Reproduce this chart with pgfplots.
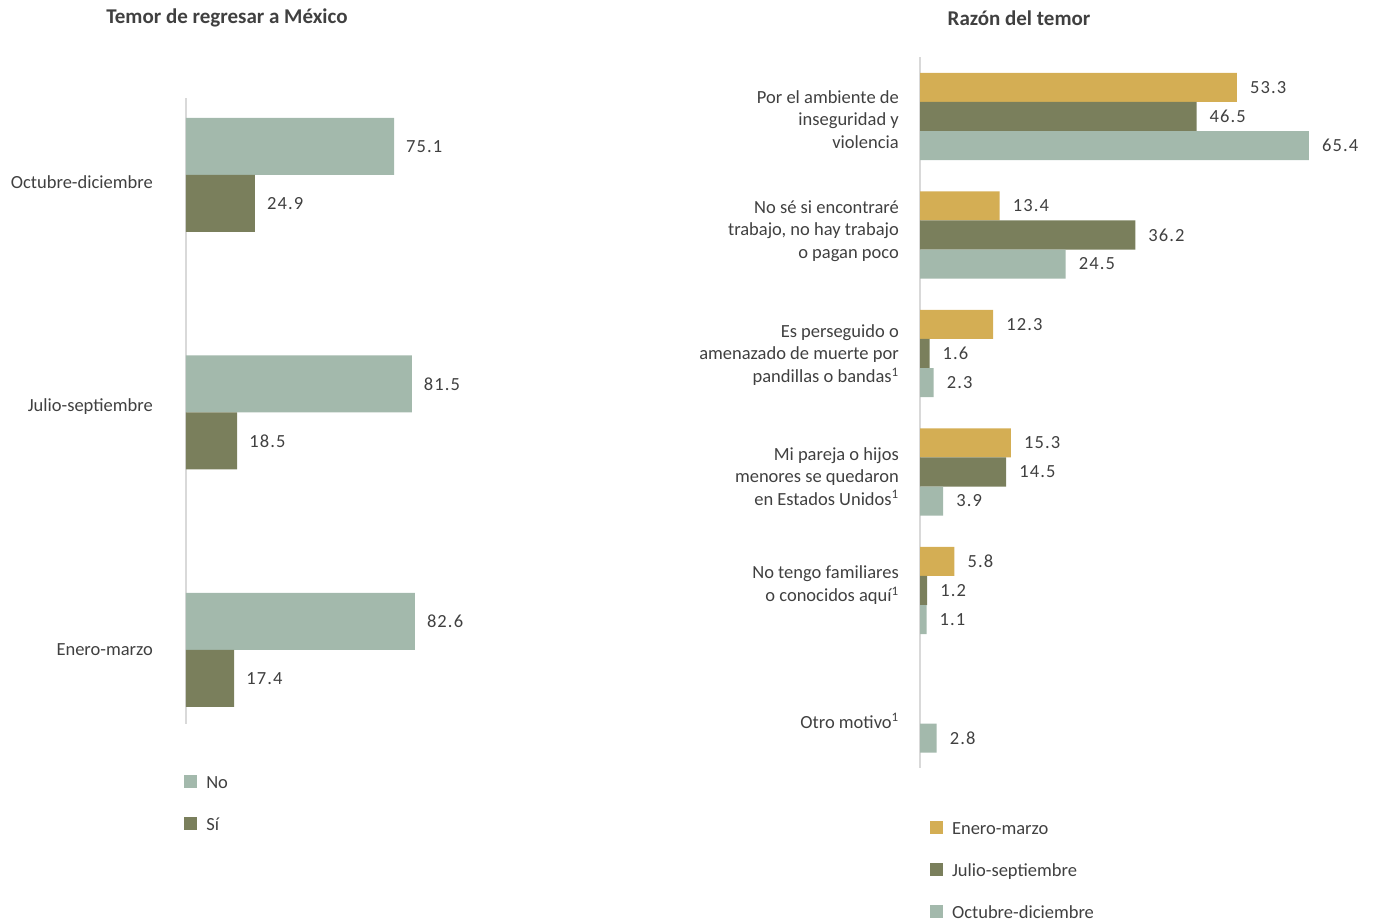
\documentclass[border=0pt]{standalone}
\usepackage{pgfplots}
\pgfplotsset{compat=1.18}
\usepackage{fontspec}
\setmainfont{Carlito}
\newfontfamily\numfont[LetterSpace=6]{Carlito}
\definecolor{sage}{HTML}{A3B9AC}
\definecolor{olive}{HTML}{7A7F5C}
\definecolor{gold}{HTML}{D4AE54}
\definecolor{txt}{HTML}{404040}
\definecolor{axl}{HTML}{D9D9D9}
\pgfplotsset{
  common/.style={
    scale only axis, anchor=north west,
    y dir=reverse,
    axis y line*=left, axis x line=none,
    y axis line style={axl, line width=2.5pt},
    xtick=\empty, major tick length=0pt,
    xbar, point meta=explicit symbolic,
    nodes near coords, nodes near coords align=horizontal,
    every node near coord/.append style={font=\numfont\fontsize{18.5}{22}\selectfont, text=txt, anchor=west, inner sep=0pt},
    legend cell align=left,
    legend image code/.code={\fill[##1] (0pt,-4.5pt) rectangle (13pt,8.5pt);},
    legend style={anchor=north west, draw=none, fill=none, inner sep=0pt, row sep=25pt,
      font=\fontsize{18.5}{22}\selectfont, text=txt,
      nodes={inner sep=0pt, text height=13pt, text depth=4pt},
      /tikz/every odd column/.append style={column sep=9pt}},
  }
}
\begin{document}
\begin{tikzpicture}[x=1pt,y=1pt]
\path[use as bounding box] (0,0) rectangle (1374,-920);
\node[font=\fontsize{21}{25}\selectfont\bfseries, text=txt] at (227,-18) {Temor de regresar a México};
\node[font=\fontsize{21}{25}\selectfont\bfseries, text=txt] at (1019,-18) {Razón del temor};

\begin{axis}[common,
  at={(186pt,-98pt)}, width=277pt, height=626pt,
  xmin=0, xmax=100, ymin=-0.324, ymax=2.312,
  ytick={0.029,0.977,2.0},
  yticklabels={Octubre-diciembre, Julio-septiembre, Enero-marzo},
  yticklabel style={font=\fontsize{18.5}{22.5}\selectfont, text=txt, anchor=east, inner sep=0pt, xshift=-33pt},
  bar width=0.24,
  every node near coord/.append style={xshift=12pt},
  legend style={at={(-0.007,-0.0815)}},
]
\addplot[fill=sage, draw=none, bar shift=-0.12] coordinates {(75.1,0) [75.1] (81.5,1) [81.5] (82.6,2) [82.6]};
\addplot[fill=olive, draw=none, bar shift=0.12] coordinates {(24.9,0) [24.9] (18.5,1) [18.5] (17.4,2) [17.4]};
\legend{No, Sí}
\end{axis}

\begin{axis}[common,
  at={(920pt,-57pt)}, width=446pt, height=711pt,
  xmin=0, xmax=75, ymin=-0.502, ymax=5.498,
  ytick={0.025,0.968,2.012,3.035,3.956,5.101},
  yticklabels={{Por el ambiente de\\inseguridad y\\violencia},
    {No sé si encontraré\\trabajo, no hay trabajo\\o pagan poco},
    {Es perseguido o\\amenazado de muerte por\\pandillas o bandas\textsuperscript{1}},
    {Mi pareja o hijos\\menores se quedaron\\en Estados Unidos\textsuperscript{1}},
    {No tengo familiares\\o conocidos aquí\textsuperscript{1}},
    {Otro motivo\textsuperscript{1}}},
  yticklabel style={font=\fontsize{18.5}{22.5}\selectfont, text=txt, anchor=east, align=right, inner sep=0pt, xshift=-21pt},
  bar width=0.245,
  every node near coord/.append style={xshift=13pt},
  legend style={at={(0.022,-0.0745)}},
]
\addplot[fill=gold, draw=none, bar shift=-0.245] coordinates {(53.3,0) [53.3] (13.4,1) [13.4] (12.3,2) [12.3] (15.3,3) [15.3] (5.8,4) [5.8]};
\addplot[fill=olive, draw=none, bar shift=0] coordinates {(46.5,0) [46.5] (36.2,1) [36.2] (1.6,2) [1.6] (14.5,3) [14.5] (1.2,4) [1.2]};
\addplot[fill=sage, draw=none, bar shift=0.245] coordinates {(65.4,0) [65.4] (24.5,1) [24.5] (2.3,2) [2.3] (3.9,3) [3.9] (1.1,4) [1.1] (2.8,5) [2.8]};
\legend{Enero-marzo, Julio-septiembre, Octubre-diciembre}
\end{axis}
\end{tikzpicture}
\end{document}
